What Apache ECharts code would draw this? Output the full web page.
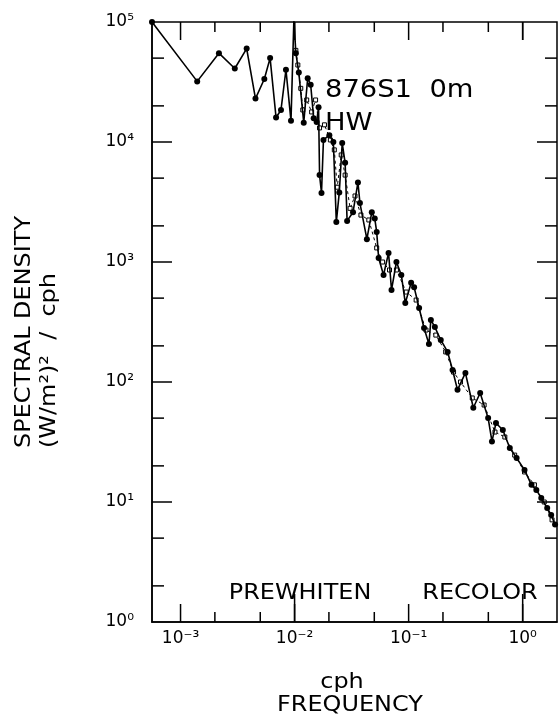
<!DOCTYPE html>
<html lang="en">
<head>
<meta charset="UTF-8">
<title>876S1 0m spectrum</title>
<script src="https://cdn.jsdelivr.net/npm/echarts@6.0.0/dist/echarts.min.js"></script>
<style>
  html, body { margin: 0; padding: 0; background: #fff; }
  #chart { width: 560px; height: 724px; }
</style>
</head>
<body>
<div id="chart"></div>
<script>
// spectrum, solid line + filled dots (cph, (W/m2)^2/cph)
const freqA = [0.000562, 0.0014, 0.00217, 0.00299, 0.0038, 0.00454, 0.00543, 0.0061, 0.00688, 0.0076,
  0.0084, 0.0093, 0.00986, 0.01026, 0.01089, 0.01203, 0.01303, 0.01384, 0.0147, 0.01561,
  0.01623, 0.01656, 0.01722, 0.01791, 0.02018, 0.02188, 0.02323, 0.02466, 0.02616, 0.02775,
  0.02888, 0.03254, 0.03594, 0.03741, 0.04305, 0.04754, 0.05047, 0.05248, 0.05457, 0.06026,
  0.06668, 0.07079, 0.07816, 0.0863, 0.0935, 0.1052, 0.1117, 0.1236, 0.1365, 0.1507,
  0.1567, 0.1698, 0.1914, 0.2198, 0.2428, 0.2684, 0.3147, 0.369, 0.424, 0.498,
  0.538, 0.5834, 0.67, 0.771, 0.885, 1.038, 1.194, 1.318, 1.456, 1.641, 1.778, 1.923];
const densA = [100000, 32000, 55000, 41000, 60000, 23000, 33500, 50000, 16000, 18500,
  40000, 15000, 105000, 55000, 38000, 14500, 34000, 30000, 15800, 14700,
  19500, 5300, 3760, 10400, 11400, 10000, 2150, 3800, 9800, 6700,
  2200, 2600, 4600, 3100, 1550, 2600, 2300, 1780, 1080, 780,
  1190, 585, 1000, 780, 455, 670, 617, 414, 282, 207,
  329, 287, 224, 178, 126, 86, 119, 61, 81, 50,
  32, 45.5, 39.8, 28.2, 23.3, 18.5, 13.9, 12.6, 10.8, 8.9, 7.8, 6.5];

// second estimate, dashed line + open squares
const freqB = [0.01026, 0.01068, 0.01133, 0.0118, 0.01277, 0.01411, 0.01528, 0.01655, 0.01828, 0.0206,
  0.0223, 0.02366, 0.02564, 0.02775, 0.03069, 0.03388, 0.03817, 0.04477, 0.05248, 0.05912,
  0.06797, 0.07816, 0.0953, 0.1164, 0.1419, 0.1732, 0.2113, 0.2477, 0.2851, 0.3614,
  0.4592, 0.5715, 0.6976, 0.851, 1.038, 1.268, 1.545, 1.81];
const densB = [58000, 43800, 28000, 18500, 22400, 17800, 22400, 13100, 13900, 10400,
  8600, 4200, 7800, 5300, 2800, 3550, 2460, 2240, 1310, 1000,
  858, 858, 562, 482, 271, 246, 178, 121, 100, 73.6,
  64.3, 38.3, 34.8, 24.6, 17.8, 13.9, 10, 7.1];

// axis ticks
const xMin = 0.000562, xMax = 2;
const xMajor = [0.001, 0.01, 0.1, 1];
const xMinor = [0.002, 0.005, 0.02, 0.05, 0.2, 0.5];
const bandEdges = [0.01, 1];
const yMajor = [10, 100, 1000, 10000];
const yMinor = [2, 5, 20, 50, 200, 500, 2000, 5000, 20000, 50000];

const supDigits = { '-': '⁻', '0': '⁰', '1': '¹', '2': '²', '3': '³', '4': '⁴', '5': '⁵' };
function powLabel(v) {
    const e = Math.log10(v);
    if (Math.abs(e - Math.round(e)) > 1e-6) return '';
    return '10' + String(Math.round(e)).split('').map(c => supDigits[c]).join('');
}

// tick marks: [x, y, kind]  kind 0 x-major, 1 x-minor, 2 band edge, 3 y-major, 4 y-minor
const tickData = []
    .concat(xMajor.map(v => [v, 1, 0]))
    .concat(xMinor.map(v => [v, 1, 1]))
    .concat(bandEdges.map(v => [v, 1, 2]))
    .concat(yMajor.map(v => [xMin, v, 3]))
    .concat(yMinor.map(v => [xMin, v, 4]));

function renderTick(params, api) {
    const cs = params.coordSys;
    const kind = api.value(2);
    const st = { stroke: '#000', lineWidth: 1.5 };
    if (kind <= 2) {
        const px = api.coord([api.value(0), 1])[0];
        const len = kind === 0 ? 18 : (kind === 1 ? 10 : 28);
        const b = cs.y + cs.height;
        return { type: 'group', children: [
            { type: 'line', shape: { x1: px, y1: b, x2: px, y2: b - len }, style: st },
            { type: 'line', shape: { x1: px, y1: cs.y, x2: px, y2: cs.y + (kind === 1 ? 10 : 18) }, style: st }
        ] };
    }
    const py = api.coord([xMin, api.value(1)])[1];
    const len = kind === 3 ? 20 : 12;
    const r = cs.x + cs.width;
    return { type: 'group', children: [
        { type: 'line', shape: { x1: cs.x, y1: py, x2: cs.x + len, y2: py }, style: st },
        { type: 'line', shape: { x1: r, y1: py, x2: r - len, y2: py }, style: st }
    ] };
}

const FONT = 'DejaVu Sans';
function txt(text, x, y, size, extra) {
    return Object.assign({
        type: 'text', x: x, y: y, scaleX: 1.14, z: 10,
        style: { text: text, fontFamily: FONT, fontSize: size, fill: '#000', align: 'center', verticalAlign: 'middle' }
    }, extra || {});
}

const chart = echarts.init(document.getElementById('chart'));
chart.setOption({
    animation: false,
    backgroundColor: '#fff',
    grid: { left: 152, top: 22, right: -3, bottom: 102, show: true, borderColor: '#000', borderWidth: 1.5 },
    xAxis: {
        type: 'log', logBase: 10, min: xMin, max: xMax,
        axisLine: { show: true, lineStyle: { color: '#000', width: 1.5 } },
        axisTick: { show: false },
        splitLine: { show: false },
        axisLabel: { margin: 8, fontFamily: FONT, fontSize: 17, color: '#000', formatter: powLabel, showMinLabel: true, showMaxLabel: true }
    },
    yAxis: {
        type: 'log', logBase: 10, min: 1, max: 100000,
        axisLine: { show: true, lineStyle: { color: '#000', width: 1.5 } },
        axisTick: { show: false },
        splitLine: { show: false },
        axisLabel: { margin: 18, fontFamily: FONT, fontSize: 17, color: '#000', formatter: powLabel, showMinLabel: true, showMaxLabel: true }
    },
    series: [
        {
            type: 'line', name: 'B', z: 2,
            data: freqB.map((f, i) => [f, densB[i]]),
            symbol: 'rect', symbolSize: 4, showSymbol: true,
            lineStyle: { color: '#000', width: 1, type: [3, 3] },
            itemStyle: { color: '#fff', borderColor: '#000', borderWidth: 1 }
        },
        {
            type: 'line', name: 'A', z: 3,
            data: freqA.map((f, i) => [f, densA[i]]),
            symbol: 'circle', symbolSize: 6, showSymbol: true,
            lineStyle: { color: '#000', width: 1.6 },
            itemStyle: { color: '#000' }
        },
        {
            type: 'custom', name: 'ticks', z: 4, silent: true,
            data: tickData, renderItem: renderTick, clip: false
        }
    ],
    graphic: [
        txt('876S1  0m', 325, 91, 24, { style: { text: '876S1  0m', fontFamily: FONT, fontSize: 24, fill: '#000', align: 'left', verticalAlign: 'middle' } }),
        txt('HW', 325, 124, 24, { style: { text: 'HW', fontFamily: FONT, fontSize: 24, fill: '#000', align: 'left', verticalAlign: 'middle' } }),
        txt('PREWHITEN', 300, 594, 21),
        txt('RECOLOR', 480, 594, 21),
        txt('cph', 342, 683, 21),
        txt('FREQUENCY', 350, 706, 21),
        txt('SPECTRAL DENSITY', 25, 448, 21, { rotation: Math.PI / 2, style: { text: 'SPECTRAL DENSITY', fontFamily: FONT, fontSize: 21, fill: '#000', align: 'left', verticalAlign: 'middle' } }),
        txt('(W/m²)²  /  cph', 50, 448, 21, { rotation: Math.PI / 2, style: { text: '(W/m²)²  /  cph', fontFamily: FONT, fontSize: 21, fill: '#000', align: 'left', verticalAlign: 'middle' } })
    ]
});
</script>
</body>
</html>
